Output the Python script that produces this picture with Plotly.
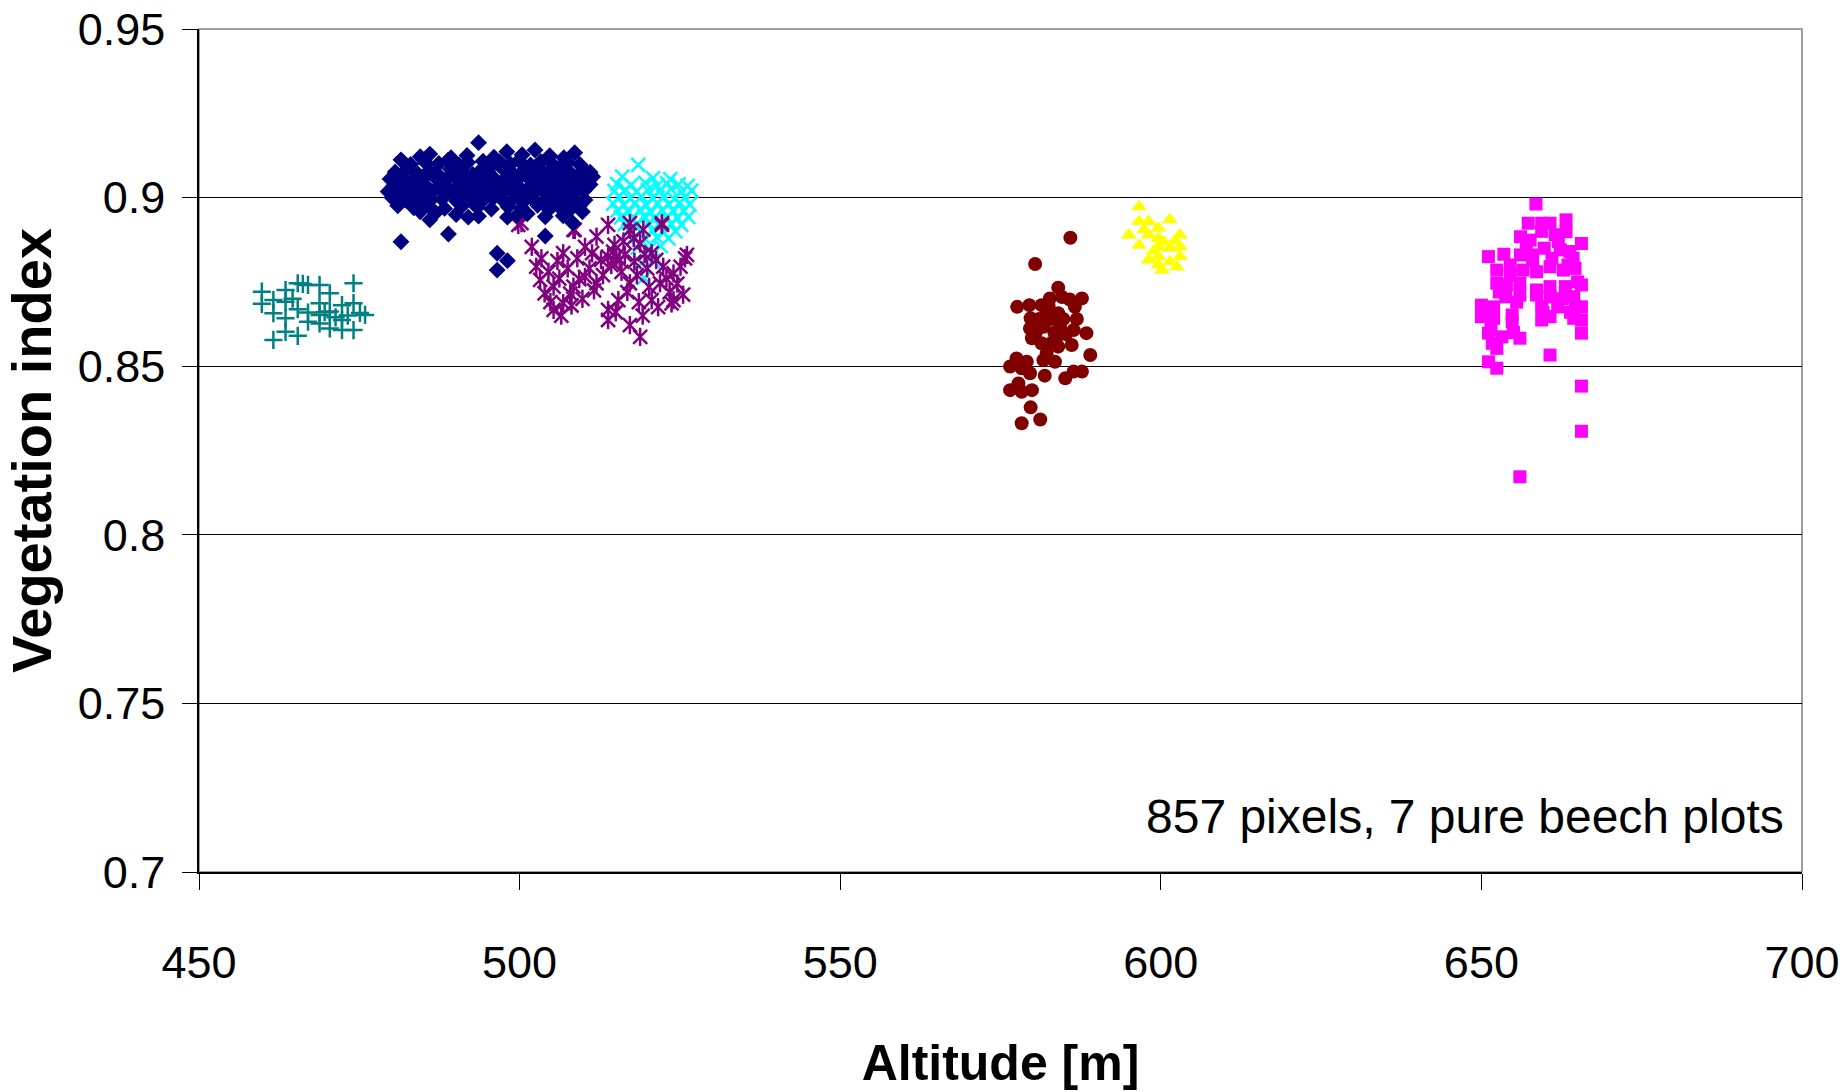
import plotly.graph_objects as go

# Altitude [m] / vegetation index pairs for each beech plot
plot_teal = [
    (459.8, 0.8721), (459.8, 0.8685), (461.6, 0.8696), (461.6, 0.8657), (461.6, 0.8578),
    (463.5, 0.8726), (463.5, 0.8691), (463.5, 0.8642), (463.5, 0.8602), (465.4, 0.8746),
    (465.4, 0.8669), (465.4, 0.8590), (467.0, 0.8741), (467.0, 0.8659), (467.0, 0.8632),
    (468.8, 0.8741), (468.8, 0.8687), (468.8, 0.8652), (468.8, 0.8627), (470.4, 0.8716),
    (470.4, 0.8662), (470.4, 0.8612), (472.3, 0.8681), (472.3, 0.8637), (472.3, 0.8607),
    (474.1, 0.8746), (474.1, 0.8687), (474.1, 0.8607), (475.9, 0.8652), (475.1, 0.8658),
    (466.2, 0.8744), (469.6, 0.8660), (473.2, 0.8650), (464.6, 0.8700), (471.3, 0.8645),
]

plot_navy = [
    (481.5, 0.9112), (484.5, 0.9121), (486.0, 0.9129), (489.3, 0.9118), (491.8, 0.9125),
    (493.6, 0.9163), (496.0, 0.9120), (498.0, 0.9136), (500.4, 0.9127), (502.4, 0.9141),
    (504.7, 0.9124), (506.9, 0.9118), (508.6, 0.9133),
    (483.0, 0.9098), (485.3, 0.9105), (487.4, 0.9101), (488.8, 0.9110), (490.6, 0.9096),
    (491.9, 0.9104), (494.3, 0.9108), (495.7, 0.9095), (496.9, 0.9106), (498.6, 0.9099),
    (499.9, 0.9110), (501.7, 0.9097), (503.3, 0.9107), (505.1, 0.9100), (506.4, 0.9093),
    (507.5, 0.9104), (509.4, 0.9098),
    (480.6, 0.9076), (482.4, 0.9083), (484.1, 0.9071), (485.9, 0.9080), (487.0, 0.9074),
    (489.2, 0.9085), (490.9, 0.9078), (492.7, 0.9069), (494.0, 0.9082), (495.1, 0.9075),
    (497.3, 0.9087), (498.9, 0.9072), (500.6, 0.9080), (502.0, 0.9086), (503.8, 0.9073),
    (504.9, 0.9081), (506.8, 0.9077), (508.1, 0.9070), (510.0, 0.9083), (511.0, 0.9075),
    (479.8, 0.9055), (481.6, 0.9061), (483.3, 0.9050), (485.0, 0.9058), (486.6, 0.9064),
    (488.4, 0.9052), (489.9, 0.9060), (491.5, 0.9057), (493.2, 0.9049), (494.6, 0.9062),
    (496.2, 0.9054), (497.9, 0.9059), (499.5, 0.9051), (501.1, 0.9063), (502.9, 0.9056),
    (504.2, 0.9048), (505.8, 0.9061), (507.2, 0.9053), (508.8, 0.9058), (510.4, 0.9050),
    (511.4, 0.9062),
    (480.4, 0.9036), (482.0, 0.9029), (483.8, 0.9040), (485.5, 0.9033), (487.6, 0.9038),
    (489.0, 0.9027), (490.6, 0.9035), (492.1, 0.9041), (493.8, 0.9030), (495.4, 0.9037),
    (496.9, 0.9032), (498.4, 0.9039), (500.1, 0.9028), (501.7, 0.9034), (503.4, 0.9040),
    (505.0, 0.9031), (506.5, 0.9037), (508.0, 0.9029), (509.6, 0.9035), (511.0, 0.9039),
    (479.5, 0.9018), (481.2, 0.9012), (482.9, 0.9020), (484.7, 0.9009), (486.3, 0.9016),
    (488.1, 0.9021), (489.6, 0.9011), (491.3, 0.9017), (492.9, 0.9008), (494.7, 0.9019),
    (496.1, 0.9013), (497.6, 0.9022), (499.2, 0.9010), (500.8, 0.9016), (502.5, 0.9020),
    (504.0, 0.9012), (505.6, 0.9018), (507.1, 0.9009), (508.7, 0.9015), (510.1, 0.9021),
    (480.1, 0.9000), (482.2, 0.8993), (484.2, 0.8998), (486.0, 0.8990), (487.9, 0.8996),
    (490.2, 0.8989), (492.4, 0.8997), (494.2, 0.8991), (495.9, 0.8999), (497.4, 0.8992),
    (499.0, 0.8996), (500.6, 0.8988), (502.2, 0.8995), (503.9, 0.8990), (505.3, 0.8998),
    (507.0, 0.8991), (508.4, 0.8996), (510.2, 0.8993),
    (481.0, 0.8976), (483.5, 0.8970), (485.6, 0.8978), (488.3, 0.8968), (491.0, 0.8975),
    (493.4, 0.8971), (495.6, 0.8966), (498.2, 0.8973), (500.3, 0.8969), (502.8, 0.8977),
    (504.6, 0.8965), (506.2, 0.8972), (508.0, 0.8967), (509.3, 0.8974),
    (484.5, 0.8958), (486.0, 0.8934), (488.9, 0.8892), (492.0, 0.8942), (493.6, 0.8945),
    (481.5, 0.8869), (496.5, 0.8835), (496.5, 0.8785), (498.1, 0.8813), (498.1, 0.8942),
    (499.6, 0.8948), (504.0, 0.8886), (504.0, 0.8943), (509.8, 0.8958), (508.3, 0.8925),
    (486.9, 0.8955), (490.1, 0.8950), (501.2, 0.8952), (506.8, 0.8946),
]

plot_cyan = [
    (518.5, 0.9097),
    (516.0, 0.9062), (520.8, 0.9058), (523.5, 0.9055),
    (515.2, 0.9041), (517.4, 0.9038), (519.6, 0.9044), (521.5, 0.9036), (523.0, 0.9042),
    (524.8, 0.9039), (526.2, 0.9035),
    (514.8, 0.9020), (516.5, 0.9024), (518.2, 0.9017), (520.0, 0.9022), (521.9, 0.9019),
    (523.6, 0.9025), (525.3, 0.9018), (526.8, 0.9021),
    (515.5, 0.9002), (517.2, 0.8997), (519.0, 0.9004), (520.7, 0.8999), (522.4, 0.9003),
    (524.1, 0.8996), (525.8, 0.9001),
    (514.6, 0.8982), (516.3, 0.8978), (518.0, 0.8984), (519.8, 0.8977), (521.5, 0.8983),
    (523.3, 0.8979), (525.0, 0.8985), (526.5, 0.8980),
    (515.3, 0.8962), (517.0, 0.8958), (518.8, 0.8964), (520.5, 0.8957), (522.2, 0.8963),
    (524.0, 0.8959), (525.6, 0.8961),
    (515.8, 0.8941), (517.6, 0.8938), (519.4, 0.8944), (521.1, 0.8937), (522.9, 0.8942),
    (524.6, 0.8939), (526.3, 0.8943),
    (516.4, 0.8921), (518.3, 0.8918), (520.1, 0.8924), (521.8, 0.8917), (523.6, 0.8922),
    (525.2, 0.8919),
    (517.0, 0.8901), (518.9, 0.8898), (520.7, 0.8903), (522.5, 0.8897), (524.3, 0.8900),
    (517.8, 0.8881), (519.6, 0.8877), (521.4, 0.8883), (523.2, 0.8879),
    (518.4, 0.8852), (520.3, 0.8848), (522.0, 0.8856),
    (519.0, 0.8805), (520.8, 0.8812),
    (519.4, 0.8762),
]

plot_purple = [
    (499.8, 0.8919), (500.3, 0.8924), (501.9, 0.8854), (503.4, 0.8820), (503.2, 0.8756),
    (505.3, 0.8736), (505.3, 0.8667), (506.8, 0.8835), (506.8, 0.8687), (508.4, 0.8904),
    (508.4, 0.8736), (510.2, 0.8854), (510.2, 0.8765), (512.0, 0.8884), (512.0, 0.8746),
    (513.8, 0.8919), (513.8, 0.8825), (513.8, 0.8667), (513.8, 0.8637), (515.4, 0.8696),
    (517.2, 0.8924), (517.2, 0.8622), (518.8, 0.8587), (517.2, 0.8746), (518.8, 0.8864),
    (520.6, 0.8835), (520.6, 0.8696), (522.2, 0.8924), (522.4, 0.8795), (524.0, 0.8775),
    (524.0, 0.8696), (525.8, 0.8820), (521.9, 0.8746), (515.1, 0.8825), (508.6, 0.8904),
    (517.2, 0.8904), (522.2, 0.8919),
    (502.6, 0.8795), (503.9, 0.8716), (504.5, 0.8780), (505.9, 0.8812), (506.2, 0.8760),
    (507.5, 0.8790), (507.9, 0.8715), (509.0, 0.8820), (509.3, 0.8758), (509.8, 0.8700),
    (510.9, 0.8790), (511.3, 0.8835), (511.6, 0.8725), (512.7, 0.8815), (513.0, 0.8770),
    (514.3, 0.8800), (514.6, 0.8840), (515.6, 0.8815), (515.9, 0.8780), (516.4, 0.8830),
    (516.8, 0.8720), (517.9, 0.8810), (518.3, 0.8770), (518.6, 0.8690), (519.5, 0.8832),
    (519.9, 0.8790), (520.2, 0.8735), (521.3, 0.8815), (521.6, 0.8675), (522.9, 0.8760),
    (523.4, 0.8720), (523.7, 0.8686), (524.6, 0.8745), (525.1, 0.8795), (526.1, 0.8830),
    (525.5, 0.8712), (504.8, 0.8690), (506.5, 0.8650), (508.1, 0.8680), (515.0, 0.8660),
    (519.2, 0.8650), (516.2, 0.8870), (517.8, 0.8880), (519.3, 0.8905), (514.8, 0.8860),
]

plot_maroon = [
    (585.9, 0.8881), (580.4, 0.8803), (584.0, 0.8733), (577.6, 0.8676), (579.5, 0.8681),
    (581.4, 0.8681), (582.7, 0.8701), (585.8, 0.8698), (587.7, 0.8701), (579.7, 0.8642),
    (582.2, 0.8657), (584.0, 0.8657), (586.6, 0.8676), (579.6, 0.8612), (581.7, 0.8617),
    (584.3, 0.8617), (586.4, 0.8607), (588.4, 0.8598), (579.9, 0.8583), (581.4, 0.8568),
    (583.8, 0.8587), (584.0, 0.8558), (586.1, 0.8563), (582.2, 0.8538), (589.0, 0.8533),
    (577.5, 0.8523), (579.1, 0.8513), (581.7, 0.8518), (583.5, 0.8513), (576.5, 0.8499),
    (578.3, 0.8494), (579.6, 0.8479), (581.9, 0.8472), (585.1, 0.8464), (586.4, 0.8484),
    (587.7, 0.8484), (577.8, 0.8449), (576.5, 0.8429), (578.3, 0.8424), (579.9, 0.8429),
    (579.7, 0.8378), (581.2, 0.8342), (578.3, 0.8331),
    (582.9, 0.8640), (583.4, 0.8600), (584.8, 0.8640), (582.5, 0.8680), (585.2, 0.8595),
    (583.0, 0.8570), (581.0, 0.8640), (580.5, 0.8600), (584.6, 0.8705), (586.9, 0.8640),
]

plot_yellow = [
    (596.6, 0.8973), (596.6, 0.8929), (595.0, 0.8889), (598.1, 0.8929), (598.1, 0.8889),
    (596.6, 0.8859), (599.6, 0.8909), (599.6, 0.8879), (601.4, 0.8934), (603.0, 0.8889),
    (603.0, 0.8854), (599.6, 0.8854), (601.4, 0.8850), (598.1, 0.8815), (599.6, 0.8825),
    (599.6, 0.8800), (601.4, 0.8810), (603.0, 0.8825), (597.4, 0.8905), (600.5, 0.8868),
    (602.2, 0.8872), (598.9, 0.8842), (600.2, 0.8785), (602.5, 0.8795),
]

plot_magenta = [
    (658.5, 0.8981), (657.3, 0.8924), (659.4, 0.8924), (660.7, 0.8924), (663.2, 0.8934),
    (663.2, 0.8899), (656.1, 0.8884), (657.6, 0.8874), (665.6, 0.8864), (651.1, 0.8825),
    (653.5, 0.8832), (656.1, 0.8830), (657.8, 0.8830), (662.3, 0.8845), (664.3, 0.8820),
    (652.4, 0.8785), (654.5, 0.8770), (656.5, 0.8785), (658.6, 0.8780), (660.7, 0.8795),
    (662.8, 0.8785), (664.6, 0.8790), (652.4, 0.8746), (653.9, 0.8741), (656.0, 0.8746),
    (658.6, 0.8726), (660.7, 0.8736), (663.1, 0.8736), (665.6, 0.8741), (653.8, 0.8706),
    (656.0, 0.8711), (658.6, 0.8711), (660.7, 0.8706), (664.4, 0.8706), (650.0, 0.8681),
    (651.9, 0.8676), (654.8, 0.8652), (659.4, 0.8676), (661.9, 0.8676), (664.6, 0.8676),
    (665.6, 0.8676), (650.0, 0.8647), (651.9, 0.8642), (654.8, 0.8632), (659.4, 0.8637),
    (660.7, 0.8647), (664.4, 0.8642), (665.6, 0.8637), (651.1, 0.8598), (653.2, 0.8587),
    (656.0, 0.8583), (665.6, 0.8598), (651.7, 0.8568), (652.4, 0.8553), (651.1, 0.8513),
    (652.4, 0.8494), (660.7, 0.8533), (665.6, 0.8441), (665.6, 0.8307), (656.0, 0.8172),
    (659.4, 0.8900), (661.5, 0.8890), (657.0, 0.8860), (659.8, 0.8850), (662.0, 0.8870),
    (663.8, 0.8840), (658.0, 0.8815), (661.0, 0.8820), (654.5, 0.8800), (663.5, 0.8800),
    (665.0, 0.8750), (652.8, 0.8720), (655.5, 0.8690), (662.5, 0.8700), (650.4, 0.8660),
    (651.5, 0.8610), (655.0, 0.8600), (659.6, 0.8660), (663.9, 0.8660),
]

x_ticks = [450, 500, 550, 600, 650, 700]
y_ticks = [0.7, 0.75, 0.8, 0.85, 0.9, 0.95]
y_tick_text = ["0.7", "0.75", "0.8", "0.85", "0.9", "0.95"]
note_text = "857 pixels, 7 pure beech plots"

FONT = "Liberation Sans, Arial, sans-serif"


def xs(points):
    return [p[0] for p in points]


def ys(points):
    return [p[1] for p in points]


fig = go.Figure()

# (points, colour, symbol, size, outline width)
series = [
    (plot_teal, "#008080", "cross-thin-open", 13, 2.5),
    (plot_cyan, "#00FFFF", "x-thin-open", 14, 2.5),
    (plot_purple, "#800080", "x-thin-open", 14, 2.5),
    (plot_purple, "#800080", "line-ns-open", 13, 2.5),
    (plot_navy, "#000080", "diamond", 13, 0),
    (plot_maroon, "#800000", "circle", 14, 0),
    (plot_yellow, "#FFFF00", "triangle-up", 14, 0),
    (plot_magenta, "#FF00FF", "square", 13, 0),
]

for pts, colour, symbol, size, lw in series:
    marker = dict(symbol=symbol, size=size, color=colour)
    if lw:
        marker["line"] = dict(color=colour, width=lw)
    else:
        marker["line"] = dict(width=0)
    fig.add_trace(go.Scatter(x=xs(pts), y=ys(pts), mode="markers", marker=marker,
                             showlegend=False, hoverinfo="x+y"))

# grey frame along the top and right of the plotting area
fig.add_shape(type="rect", xref="paper", yref="paper", x0=0, y0=0, x1=1, y1=1,
              line=dict(color="#808080", width=1.5), layer="below")

fig.add_annotation(text=note_text, xref="paper", yref="paper", x=1, y=0,
                   xanchor="right", yanchor="middle", xshift=-16, yshift=56,
                   showarrow=False, font=dict(family=FONT, size=48, color="#000"))

fig.update_layout(
    width=1846, height=1092,
    margin=dict(l=199, r=44, t=29, b=220),
    paper_bgcolor="white", plot_bgcolor="white",
    font=dict(family=FONT, color="#000"),
    showlegend=False,
    xaxis=dict(
        range=[450, 700], tickvals=x_ticks, ticks="outside", ticklen=16,
        tickcolor="#000", tickwidth=1, showline=True, linecolor="#000", linewidth=1.5,
        showgrid=False, zeroline=False, tickfont=dict(family=FONT, size=45),
        ticklabelstandoff=34, automargin=False,
        title=dict(text="<b>Altitude [m]</b>", font=dict(family=FONT, size=50), standoff=58),
    ),
    yaxis=dict(
        range=[0.7, 0.95], tickvals=y_ticks, ticktext=y_tick_text, ticks="outside",
        ticklen=15, tickcolor="#000", tickwidth=1, showline=True, linecolor="#000",
        linewidth=1.5, showgrid=True, gridcolor="#000", gridwidth=1, zeroline=False,
        tickfont=dict(family=FONT, size=45), ticklabelstandoff=8, automargin=False,
        title=dict(text="<b>Vegetation index</b>", font=dict(family=FONT, size=56), standoff=20),
    ),
)

fig.write_html("out.html")
